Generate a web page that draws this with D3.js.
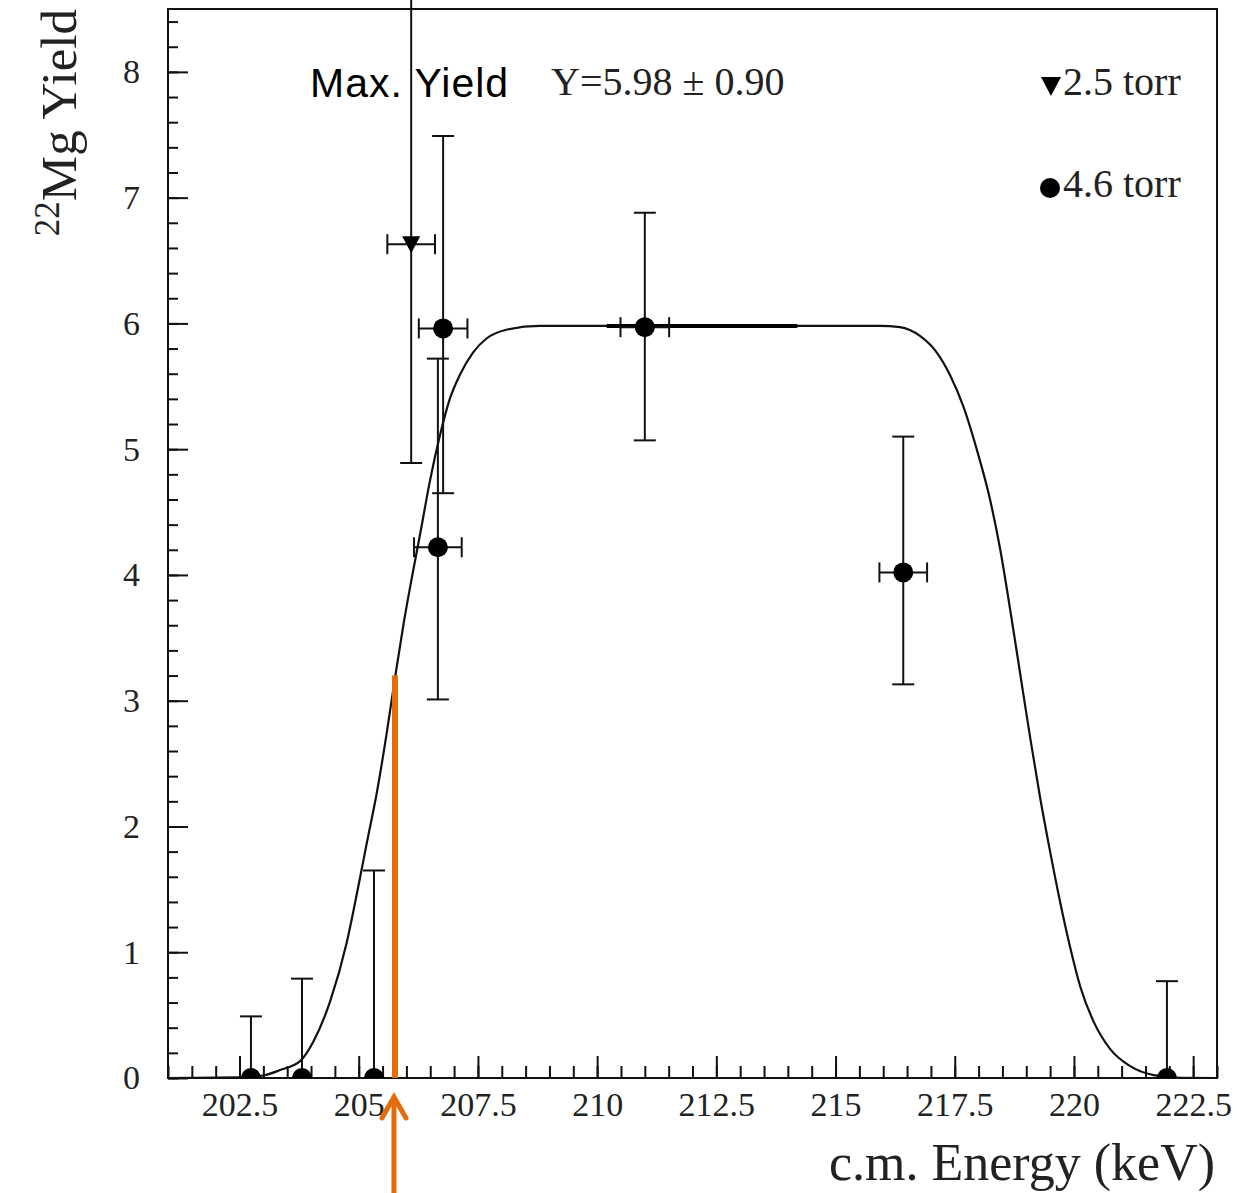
<!DOCTYPE html>
<meta charset="utf-8">
<style>
body { margin: 0; background: #fff; }
.tick text { font-family: "Liberation Serif", "Times New Roman", serif; font-size: 34px; fill: #222; }
.tick line { stroke: #111; stroke-width: 2px; }
.domain { display: none; }
.err { stroke: #111; stroke-width: 2px; fill: none; }
</style>
<body>
<div id="chart"></div>
<script src="https://d3js.org/d3.v7.min.js"></script>
<script>
// 4.6 torr points (energy, yield, lower / upper end of the error bar, energy error)
var gasE   = [202.74, 203.81, 205.32, 206.66, 206.77, 211.00, 216.42, 221.95];
var gasY   = [0, 0, 0, 4.22, 5.96, 5.97, 4.02, 0];
var gasLo  = [0, 0, 0, 3.01, 4.65, 5.07, 3.13, 0];
var gasHi  = [0.49, 0.79, 1.65, 5.72, 7.49, 6.88, 5.10, 0.77];
var gasDE  = [0, 0, 0, 0.5, 0.51, 0.51, 0.5, 0];

// 2.5 torr point
var lowE  = [206.10];
var lowY  = [6.63];
var lowLo = [4.89];
var lowHi = [8.6];
var lowDE = [0.5];

// fitted yield curve
var fitE = [201, 202.5, 203.0, 203.35, 203.77, 204.05, 204.40, 204.75, 204.99, 205.17, 205.38, 205.59,
            205.76, 205.94, 206.11, 206.29, 206.50, 206.71, 206.91, 207.12, 207.40, 207.68, 208.10, 208.80,
            215.93, 216.35, 216.77, 217.12, 217.40, 217.68, 217.96, 218.24, 218.45, 218.66, 218.87, 219.08,
            219.29, 219.50, 219.71, 219.92, 220.13, 220.41, 220.76, 221.18, 221.67, 222.23, 223];
var fitY = [0, 0.005, 0.02, 0.063, 0.134, 0.29, 0.61, 1.08, 1.52, 1.87, 2.27, 2.75,
            3.18, 3.61, 3.97, 4.33, 4.76, 5.12, 5.40, 5.59, 5.77, 5.88, 5.95, 5.98,
            5.98, 5.97, 5.90, 5.77, 5.59, 5.34, 5.00, 4.60, 4.21, 3.73, 3.22, 2.71,
            2.23, 1.80, 1.40, 1.04, 0.73, 0.45, 0.23, 0.094, 0.023, 0.002, 0];
var plateauE = [210.2, 214.2];
var maxYield = 5.98;

// orange marker (energy, yield where it meets the curve)
var markE = 205.76, markY = 3.2;

var xTicksMajor = [202.5, 205, 207.5, 210, 212.5, 215, 217.5, 220, 222.5];
var xTicksMinor = d3.range(201, 223.01, 0.5);
var yTicksMajor = [0, 1, 2, 3, 4, 5, 6, 7, 8];
var yTicksMinor = d3.range(0, 8.41, 0.2);

/* sizes */
var W = 1237, H = 1193;
var margin = {top: 9, right: 20, bottom: 115, left: 168};
var width = W - margin.left - margin.right;
var height = H - margin.top - margin.bottom;

var x = d3.scaleLinear().domain([201, 223]).range([0, width]);
var y = d3.scaleLinear().domain([0, 8.5]).range([height, 0]);

var svg = d3.select("#chart").append("svg")
    .attr("width", W)
    .attr("height", H)
  .append("g")
    .attr("transform", "translate(" + margin.left + "," + margin.top + ")");

svg.append("clipPath").attr("id", "clip")
  .append("rect").attr("width", width).attr("height", height);

// axes: minor ticks, then major ticks with labels
svg.append("g")
    .attr("transform", "translate(0," + height + ")")
    .call(d3.axisBottom(x).tickValues(xTicksMinor).tickSize(-12).tickFormat(""));
svg.append("g")
    .attr("transform", "translate(0," + height + ")")
    .call(d3.axisBottom(x).tickValues(xTicksMajor).tickSize(-22).tickPadding(14).tickFormat(d3.format("")));
svg.append("g")
    .call(d3.axisLeft(y).tickValues(yTicksMinor).tickSize(-10).tickFormat(""));
svg.append("g")
    .call(d3.axisLeft(y).tickValues(yTicksMajor).tickSize(-20).tickPadding(28).tickFormat(d3.format("d")));

// frame
svg.append("rect")
    .attr("width", width).attr("height", height)
    .attr("fill", "none").attr("stroke", "#111").attr("stroke-width", 2);

// fit curve
var fit = fitE.map(function(e, i) { return {e: e, y: fitY[i]}; });
var line = d3.line()
    .x(function(d) { return x(d.e); })
    .y(function(d) { return y(d.y); })
    .curve(d3.curveMonotoneX);
svg.append("path")
    .datum(fit)
    .attr("d", line)
    .attr("fill", "none").attr("stroke", "#111").attr("stroke-width", 2.2);
svg.append("line")
    .attr("x1", x(plateauE[0])).attr("x2", x(plateauE[1]))
    .attr("y1", y(maxYield)).attr("y2", y(maxYield))
    .attr("stroke", "#000").attr("stroke-width", 4);

// error bars
function drawSet(E, Y, Lo, Hi, DE, marker) {
  var data = E.map(function(e, i) { return {e: e, y: Y[i], lo: Lo[i], hi: Hi[i], de: DE[i]}; });
  var g = svg.append("g");
  data.forEach(function(d) {
    var cx = x(d.e), cy = y(d.y);
    g.append("line").attr("class", "err")
      .attr("x1", cx).attr("x2", cx).attr("y1", y(d.lo)).attr("y2", y(d.hi));
    if (d.hi < 8.5) g.append("line").attr("class", "err")
      .attr("x1", cx - 11).attr("x2", cx + 11).attr("y1", y(d.hi)).attr("y2", y(d.hi));
    if (d.lo > 0) g.append("line").attr("class", "err")
      .attr("x1", cx - 11).attr("x2", cx + 11).attr("y1", y(d.lo)).attr("y2", y(d.lo));
    if (d.de > 0) {
      g.append("line").attr("class", "err")
        .attr("x1", x(d.e - d.de)).attr("x2", x(d.e + d.de)).attr("y1", cy).attr("y2", cy);
      [d.e - d.de, d.e + d.de].forEach(function(v) {
        g.append("line").attr("class", "err")
          .attr("x1", x(v)).attr("x2", x(v)).attr("y1", cy - 10).attr("y2", cy + 10);
      });
    }
  });
  var m = svg.append("g").attr("clip-path", "url(#clip)");
  if (marker === "circle") {
    m.selectAll("circle").data(data).enter().append("circle")
      .attr("cx", function(d) { return x(d.e); })
      .attr("cy", function(d) { return y(d.y); })
      .attr("r", 10).attr("fill", "#000");
  } else {
    m.selectAll("path").data(data).enter().append("path")
      .attr("transform", function(d) { return "translate(" + x(d.e) + "," + y(d.y) + ")"; })
      .attr("d", "M-9,-8L9,-8L0,9Z").attr("fill", "#000");
  }
}
drawSet(gasE, gasY, gasLo, gasHi, gasDE, "circle");
drawSet(lowE, lowY, lowLo, lowHi, lowDE, "triangle");

// axis titles
svg.append("text")
    .attr("x", width - 2).attr("y", height + 102)
    .attr("text-anchor", "end")
    .attr("font-family", "Liberation Serif, serif")
    .attr("font-size", 52).attr("fill", "#222")
    .text("c.m. Energy (keV)");
var yt = svg.append("text")
    .attr("transform", "translate(" + (76 - margin.left) + "," + (0) + ") rotate(-90)")
    .attr("text-anchor", "end")
    .attr("font-family", "Liberation Serif, serif")
    .attr("font-size", 51).attr("fill", "#222");
yt.append("tspan").attr("font-size", 35).attr("dy", -17).text("22");
yt.append("tspan").attr("dy", 17).text("Mg Yield");

// annotations
svg.append("text")
    .attr("x", 310 - margin.left).attr("y", 97 - margin.top)
    .attr("font-family", "Liberation Sans, Arial, sans-serif")
    .attr("font-size", 41).attr("letter-spacing", 1).attr("fill", "#000")
    .text("Max. Yield");
svg.append("text")
    .attr("x", 551 - margin.left).attr("y", 95 - margin.top)
    .attr("font-family", "Liberation Serif, serif")
    .attr("font-size", 40).attr("fill", "#222")
    .text("Y=5.98 \u00b1 0.90");

// legend
var lg = svg.append("g").attr("transform", "translate(" + (1040 - margin.left) + "," + (95 - margin.top) + ")");
lg.append("path").attr("d", "M1,-18L21,-18L11,1Z").attr("fill", "#000");
lg.append("text").attr("x", 23).attr("y", 0)
    .attr("font-family", "Liberation Serif, serif").attr("font-size", 40).attr("fill", "#222")
    .text("2.5 torr");
lg.append("circle").attr("cx", 10).attr("cy", 93).attr("r", 10).attr("fill", "#000");
lg.append("text").attr("x", 23).attr("y", 102)
    .attr("font-family", "Liberation Serif, serif").attr("font-size", 40).attr("fill", "#222")
    .text("4.6 torr");

// orange marker line and arrow
var orange = "#E46C0A";
svg.append("line")
    .attr("x1", x(markE)).attr("x2", x(markE))
    .attr("y1", y(0)).attr("y2", y(markY))
    .attr("stroke", orange).attr("stroke-width", 6);
svg.append("line")
    .attr("x1", x(markE) - 1).attr("x2", x(markE) - 1)
    .attr("y1", height + 20).attr("y2", H - margin.top)
    .attr("stroke", orange).attr("stroke-width", 5);
svg.append("path")
    .attr("d", "M" + (x(markE) - 13) + "," + (height + 40) + "L" + (x(markE) - 1) + "," + (height + 19) +
               "L" + (x(markE) + 11) + "," + (height + 40))
    .attr("fill", "none").attr("stroke", orange).attr("stroke-width", 5)
    .attr("stroke-linecap", "round").attr("stroke-linejoin", "miter");
</script>
</body>
